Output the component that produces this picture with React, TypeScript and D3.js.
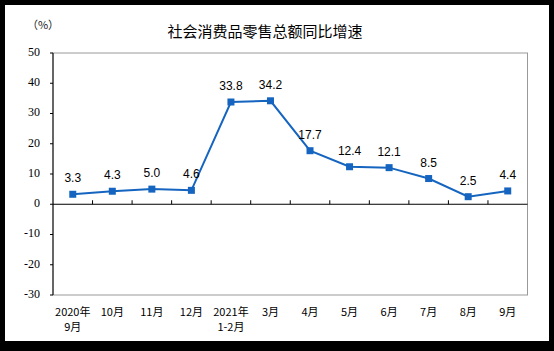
import React from "react";
import * as d3 from "d3";

const categories = ["2020年\n9月", "10月", "11月", "12月", "2021年\n1-2月", "3月", "4月", "5月", "6月", "7月", "8月", "9月"];
const growth = [3.3, 4.3, 5.0, 4.6, 33.8, 34.2, 17.7, 12.4, 12.1, 8.5, 2.5, 4.4];
const yTicks = [50, 40, 30, 20, 10, 0, -10, -20, -30];

const W = 554, H = 351;
const plot = { left: 53, right: 527.5, top: 53, bottom: 295 };
const blue = "#1565C0";
const cjk = "'Noto Sans CJK SC', 'Liberation Sans', sans-serif";

export default function App() {
  const x = d3.scaleBand<number>().domain(d3.range(categories.length)).range([plot.left, plot.right]);
  const y = d3.scaleLinear().domain([-30, 50]).range([plot.bottom, plot.top]);
  const cx = (i: number) => (x(i) as number) + x.bandwidth() / 2;
  const line = d3.line<number>().x((_, i) => cx(i)).y(d => y(d));
  const y0 = y(0);

  return (
    <svg width={W} height={H} style={{ position: "absolute", left: 0, top: 0 }}>
      <rect width={W} height={H} fill="#000" />
      <rect x={5} y={5} width={544} height={336} fill="#fff" />

      <text x={43} y={26} fontSize={11} fontFamily={cjk} textAnchor="middle" dominantBaseline="middle" fill="#222">（%）</text>
      <text x={265} y={33} fontSize={15} fontFamily={cjk} textAnchor="middle" dominantBaseline="middle" fill="#000">社会消费品零售总额同比增速</text>

      <rect x={plot.left} y={plot.top} width={plot.right - plot.left} height={plot.bottom - plot.top} fill="none" stroke="#999" strokeWidth={1} />
      <line x1={plot.left} x2={plot.left} y1={plot.top} y2={plot.bottom} stroke="#000" strokeWidth={1} />
      <line x1={plot.left} x2={plot.right} y1={y0} y2={y0} stroke="#000" strokeWidth={1} />

      {yTicks.map(t => (
        <g key={t}>
          <line x1={plot.left - 3} x2={plot.left} y1={y(t)} y2={y(t)} stroke="#000" />
          <text x={40} y={y(t)} fontSize={12} fontFamily="'Liberation Serif', serif" textAnchor="end" dominantBaseline="middle" fill="#000">{t}</text>
        </g>
      ))}

      {categories.slice(1).map((_, i) => {
        const tx = x(i + 1) as number;
        return <line key={i} x1={tx} x2={tx} y1={y0 - 4} y2={y0} stroke="#000" />;
      })}

      {categories.map((c, i) => (
        <text key={i} x={cx(i)} y={313} fontSize={11} fontFamily={cjk} textAnchor="middle" dominantBaseline="middle" fill="#000">
          {c.split("\n").map((s, j) => (
            <tspan key={j} x={cx(i)} dy={j === 0 ? 0 : 15}>{s}</tspan>
          ))}
        </text>
      ))}

      <path d={line(growth) || ""} fill="none" stroke={blue} strokeWidth={2} />
      {growth.map((v, i) => (
        <g key={i}>
          <rect x={cx(i) - 3.5} y={y(v) - 3.5} width={7} height={7} fill={blue} />
          <text x={cx(i)} y={y(v) - 12} fontSize={12} fontFamily="'Liberation Sans', Arial, sans-serif" textAnchor="middle" fill="#000">{v.toFixed(1)}</text>
        </g>
      ))}
    </svg>
  );
}
